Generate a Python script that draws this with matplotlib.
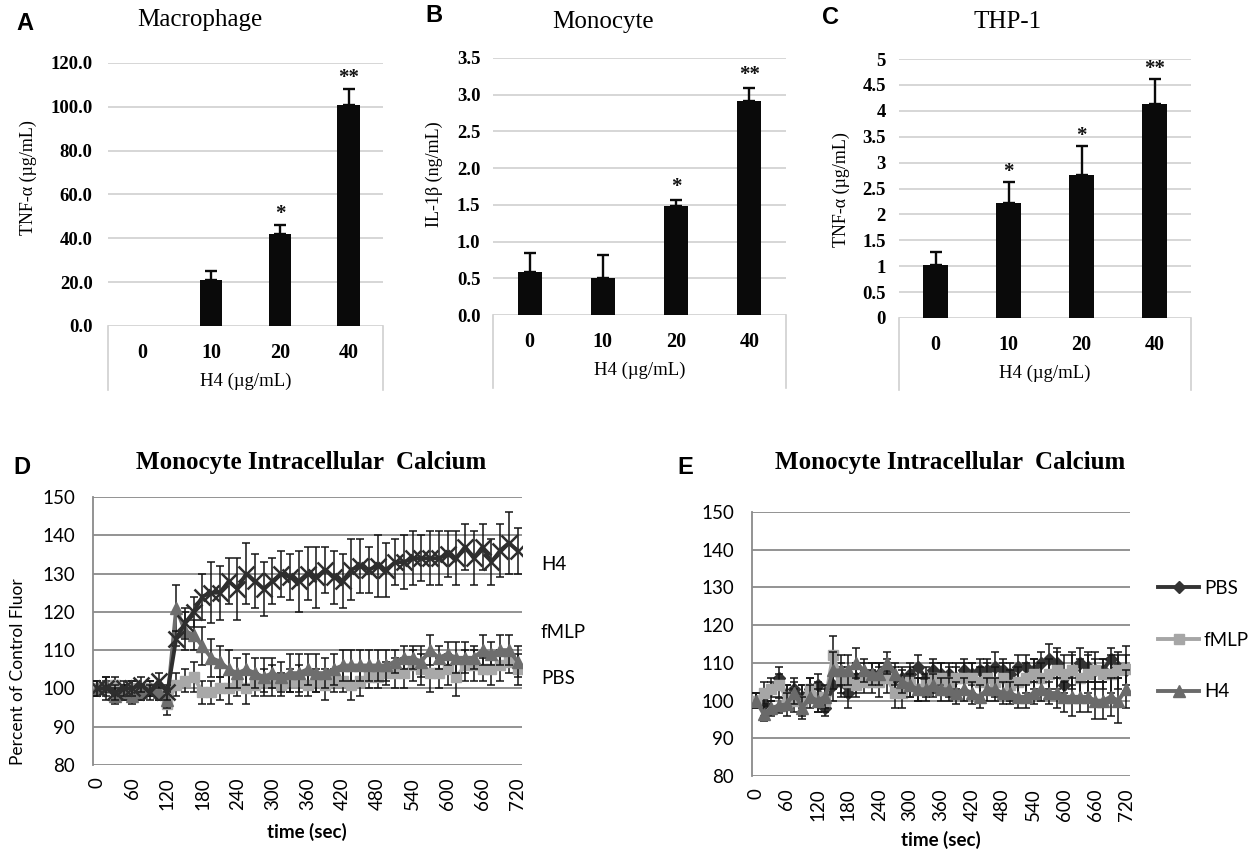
import matplotlib
matplotlib.use('Agg')
import matplotlib.pyplot as plt
import matplotlib.transforms as mtransforms
from matplotlib.lines import Line2D

# ---------------- data ----------------
doses = ['0', '10', '20', '40']

mac_tnf = [0, 21, 42, 101]
mac_err = [0, 4, 4, 7]
mac_sig = ['', '', '*', '**']

mono_il1b = [0.58, 0.50, 1.48, 2.92]
mono_err = [0.27, 0.32, 0.09, 0.17]
mono_sig = ['', '', '*', '**']

thp_tnf = [1.03, 2.22, 2.76, 4.13]
thp_err = [0.24, 0.41, 0.56, 0.48]
thp_sig = ['', '*', '*', '**']

time_sec = list(range(0, 721, 15))
time_ticks = list(range(0, 721, 60))

# Panel D
d_h4 = [100, 100, 99, 100, 100, 101, 99, 102, 99, 113, 117, 120, 124, 125, 125, 128, 126,
        130, 128, 126, 128, 130, 129, 128, 130, 129, 131, 129, 128, 131, 132, 131, 132,
        131, 133, 133, 134, 134, 134, 134, 135, 134, 137, 134, 137, 133, 136, 138, 136]
d_h4_err = [2, 3, 2, 2, 2, 2, 2, 2, 2, 2, 4, 4, 6, 8, 7, 6, 8, 8, 7, 7, 6, 6, 6, 8, 7,
            8, 6, 7, 7, 8, 7, 6, 8, 7, 6, 7, 7, 6, 7, 7, 6, 7, 6, 7, 6, 6, 7, 8, 6]
d_fmlp = [100, 101, 98, 99, 98, 99, 100, 99, 97, 121, 115, 114, 111, 108, 107, 105, 104,
          105, 104, 103, 104, 103, 104, 104, 105, 104, 104, 105, 106, 106, 106, 106, 106,
          106, 107, 108, 108, 107, 110, 108, 109, 108, 108, 108, 110, 109, 110, 110, 107]
d_fmlp_err = [2, 2, 2, 2, 2, 2, 2, 2, 2, 6, 5, 4, 5, 5, 4, 5, 4, 4, 4, 5, 4, 4, 5, 5, 4,
              5, 4, 4, 4, 4, 4, 4, 4, 4, 3, 3, 3, 4, 4, 3, 3, 4, 4, 3, 4, 3, 4, 4, 4]
d_pbs = [100, 100, 101, 99, 100, 99, 100, 99, 96, 101, 102, 103, 99, 99, 100, 100, 101,
         100, 101, 102, 102, 101, 102, 102, 101, 102, 101, 102, 102, 101, 102, 103, 103,
         104, 104, 104, 106, 105, 104, 104, 105, 103, 106, 106, 105, 105, 106, 107, 105]
d_pbs_err = [2, 2, 2, 2, 2, 2, 2, 2, 3, 3, 3, 4, 3, 3, 3, 4, 3, 4, 3, 3, 4, 3, 3, 4, 3,
             3, 4, 3, 3, 4, 4, 3, 3, 3, 4, 4, 4, 4, 5, 4, 4, 5, 4, 4, 3, 4, 4, 3, 4]

# Panel E
e_pbs = [100, 99, 103, 106, 101, 103, 101, 103, 104, 98, 104, 105, 102, 106, 107, 107, 107,
         108, 106, 106, 107, 109, 106, 108, 107, 107, 106, 108, 107, 108, 108, 109, 108,
         107, 109, 109, 108, 110, 111, 110, 104, 108, 110, 109, 108, 108, 111, 109, 108]
e_pbs_err = [2, 3, 2, 3, 3, 3, 3, 3, 3, 2, 4, 4, 4, 4, 3, 3, 3, 3, 3, 3, 3, 3, 3, 3, 3,
             3, 3, 3, 3, 3, 3, 4, 3, 3, 3, 3, 3, 3, 4, 4, 4, 4, 4, 4, 3, 3, 3, 3, 4]
e_fmlp = [100, 102, 103, 104, 101, 100, 100, 103, 101, 100, 112, 106, 105, 104, 105, 105,
          105, 106, 102, 102, 105, 103, 104, 106, 106, 105, 106, 106, 106, 105, 106, 105,
          106, 104, 105, 106, 107, 106, 107, 108, 107, 108, 106, 107, 108, 107, 107, 108, 108.5]
e_fmlp_err = [2, 3, 3, 3, 3, 3, 4, 3, 4, 3, 5, 4, 4, 3, 3, 3, 4, 4, 4, 4, 4, 3, 3, 4, 4,
              4, 4, 4, 4, 4, 4, 4, 4, 4, 4, 4, 4, 4, 4, 5, 5, 5, 5, 5, 5, 4, 5, 5, 6]
e_h4 = [100, 96.5, 98, 98.7, 99, 102, 98, 101, 100, 101, 108, 108, 108, 110, 108, 107, 107,
        110, 107, 105, 104, 103, 103, 104, 103, 103, 102, 103, 102, 101, 103, 103, 102,
        102, 101, 101, 102, 103, 102, 102, 101, 101, 101, 101, 100, 100, 101, 100, 103]
e_h4_err = [2, 2, 2, 2, 3, 3, 3, 3, 3, 3, 5, 4, 4, 4, 3, 3, 3, 3, 3, 3, 3, 3, 3, 3, 3,
            3, 3, 3, 3, 3, 3, 3, 3, 3, 3, 3, 3, 3, 3, 4, 4, 5, 4, 4, 5, 5, 5, 6, 5]

# ---------------- style ----------------
SERIF = 'Liberation Serif'
SANS = 'Lato'
ARIAL = 'Liberation Sans'

W, H = 1257, 851
fig = plt.figure(figsize=(W / 100, H / 100), dpi=100)
fig.patch.set_facecolor('white')


def ax_at(l, t, r, b):
    return fig.add_axes([l / W, 1 - b / H, (r - l) / W, (b - t) / H])


def fx(x):
    return x / W


def fy(y):
    return 1 - y / H


GRID_LIGHT = '#d0d0d0'


def bar_panel(box, vals, errs, sigs, ymax, ystep, fmt, ylabel, title, title_xy,
              letter, letter_xy, ylabel_xy, box_depth, pad, star_off):
    ax = ax_at(*box)
    x = list(range(len(doses)))
    ax.bar(x, vals, width=0.33, color='#0a0a0a', zorder=3)
    for xi, v, e, s in zip(x, vals, errs, sigs):
        if e > 0:
            ax.errorbar([xi], [v], yerr=[[0], [e]], fmt='none', ecolor='#0a0a0a',
                        elinewidth=1.7, capsize=4.5, capthick=1.7, zorder=4)
        if s:
            ax.annotate(s, (xi, v + e), xytext=(0, star_off), textcoords='offset points',
                        ha='center', va='bottom', fontsize=15, fontweight='bold',
                        family=SERIF, color='#111111')
    ax.set_xlim(-0.5, len(doses) - 0.5)
    ax.set_ylim(0, ymax)
    ticks = []
    v = 0.0
    while v <= ymax + 1e-9:
        ticks.append(round(v, 6))
        v += ystep
    ax.set_yticks(ticks)
    ax.set_yticklabels([fmt(t) for t in ticks], family=SERIF, fontweight='bold',
                       fontsize=13.5)
    for t in ticks:
        ax.axhline(t, color=GRID_LIGHT, lw=1.2, zorder=1)
    for sp in ax.spines.values():
        sp.set_visible(False)
    ax.tick_params(axis='y', length=0, pad=pad)
    ax.set_xticks(x)
    ax.set_xticklabels(doses, family=SERIF, fontweight='bold', fontsize=14.5)
    ax.tick_params(axis='x', length=0, pad=12)
    for xa in (0, 1):
        ax.plot([xa, xa], [0, -box_depth], transform=ax.transAxes, color=GRID_LIGHT,
                lw=1.2, clip_on=False)
    l, t, r, b = box
    fig.text(fx((l + r) / 2), fy(b + 55), 'H4 (\u00b5g/mL)', ha='center', va='center',
             family=SERIF, fontsize=13.5)
    fig.text(fx(title_xy[0]), fy(title_xy[1]), title, ha='center', va='center',
             family=SERIF, fontsize=18)
    fig.text(fx(letter_xy[0]), fy(letter_xy[1]), letter, ha='center', va='center',
             family=ARIAL, fontweight='bold', fontsize=17)
    fig.text(fx(ylabel_xy[0]), fy(ylabel_xy[1]), ylabel, ha='center', va='center',
             rotation=90, family=SERIF, fontsize=13)
    return ax


bar_panel((108, 63, 383, 326), mac_tnf, mac_err, mac_sig, 120, 20,
          lambda t: f'{t:.1f}', 'TNF-\u03b1 (\u00b5g/mL)', 'Macrophage', (200, 20),
          'A', (25, 24), (28, 178), 0.243, 11, 1)
bar_panel((493, 58, 786, 315), mono_il1b, mono_err, mono_sig, 3.5, 0.5,
          lambda t: f'{t:.1f}', 'IL-1\u03b2 (ng/mL)', 'Monocyte', (603, 22),
          'B', (434, 15), (434, 174), 0.284, 9, 2)
bar_panel((899, 59, 1191, 318), thp_tnf, thp_err, thp_sig, 5, 0.5,
          lambda t: f'{t:g}', 'TNF-\u03b1 (\u00b5g/mL)', 'THP-1', (1008, 22),
          'C', (830, 17), (841, 190), 0.278, 9.5, 0)

GRID_DARK = '#8a8a8a'


def calcium_axes(box):
    ax = ax_at(*box)
    ax.set_xlim(-7.5, 727.5)
    ax.set_ylim(80, 150)
    yt = list(range(80, 151, 10))
    ax.set_yticks(yt)
    ax.set_yticklabels([str(v) for v in yt], family=SANS, fontsize=13.5)
    for v in yt:
        ax.axhline(v, color=GRID_DARK, lw=1.3, zorder=1)
    for name, sp in ax.spines.items():
        sp.set_visible(name == 'left')
    ax.spines['left'].set_color(GRID_DARK)
    ax.spines['left'].set_linewidth(1.3)
    ax.set_xticks(time_ticks)
    ax.set_xticklabels([str(t) for t in time_ticks], rotation=90, family=SANS,
                       fontsize=13.5)
    ax.tick_params(axis='y', length=0, pad=13)
    ax.tick_params(axis='x', length=0, pad=9)
    return ax


def series(ax, t, v, e, color, marker, ms, z, mew=1.0):
    ax.errorbar(t, v, yerr=e, fmt='none', ecolor='#151515', elinewidth=1.1,
                capsize=3, capthick=1.1, zorder=z)
    line, = ax.plot(t, v, color=color, lw=2.8, marker=marker, ms=ms, mfc=color,
                    mec=color, mew=mew, zorder=z + 0.5)
    return line


# Panel D
axd = calcium_axes((93, 497, 522, 765))
series(axd, time_sec, d_pbs, d_pbs_err, '#a8a8a8', 's', 7, 3)
series(axd, time_sec, d_fmlp, d_fmlp_err, '#6e6e6e', '^', 8.5, 4)
series(axd, time_sec, d_h4, d_h4_err, '#2e2e2e', 'x', 11, 5, mew=1.8)
trans_d = mtransforms.blended_transform_factory(axd.transAxes, axd.transData)
for lab, yv in [('H4', 132.5), ('fMLP', 114.5), ('PBS', 102.5)]:
    axd.text(1.044, yv, lab, transform=trans_d, ha='left', va='center', family=SANS,
             fontsize=13.5)
fig.text(fx(18), fy(672), 'Percent of Control Fluor', rotation=90, ha='center',
         va='center', family=SANS, fontsize=12.5)
fig.text(fx(307), fy(832), 'time (sec)', ha='center', va='center', family=SANS,
         fontweight='bold', fontsize=13.5)
fig.text(fx(311), fy(462), 'Monocyte Intracellular  Calcium', ha='center', va='center',
         family=SERIF, fontweight='bold', fontsize=18)
fig.text(fx(22), fy(467), 'D', ha='center', va='center', family=ARIAL,
         fontweight='bold', fontsize=17)

# Panel E
axe = calcium_axes((752, 512, 1130, 776))
l1 = series(axe, time_sec, e_pbs, e_pbs_err, '#333333', 'D', 6, 3)
l2 = series(axe, time_sec, e_fmlp, e_fmlp_err, '#a6a6a6', 's', 7, 4)
l3 = series(axe, time_sec, e_h4, e_h4_err, '#6a6a6a', '^', 8, 5)
handles = [Line2D([], [], color=h.get_color(), lw=2.8, marker=h.get_marker(),
                  ms=h.get_markersize(), mfc=h.get_color(), mec=h.get_color())
           for h in (l1, l2, l3)]
fig.legend(handles, ['PBS', 'fMLP', 'H4'], loc='center left',
           bbox_to_anchor=(fx(1158), fy(640)), frameon=False, handlelength=2.2,
           handletextpad=0.25, labelspacing=1.85, borderpad=0, borderaxespad=0,
           prop={'family': SANS, 'size': 13.5})
fig.text(fx(941), fy(840), 'time (sec)', ha='center', va='center', family=SANS,
         fontweight='bold', fontsize=13.5)
fig.text(fx(950), fy(462), 'Monocyte Intracellular  Calcium', ha='center', va='center',
         family=SERIF, fontweight='bold', fontsize=18)
fig.text(fx(685), fy(467), 'E', ha='center', va='center', family=ARIAL,
         fontweight='bold', fontsize=17)

fig.savefig('out.png', dpi=100, facecolor='white')
